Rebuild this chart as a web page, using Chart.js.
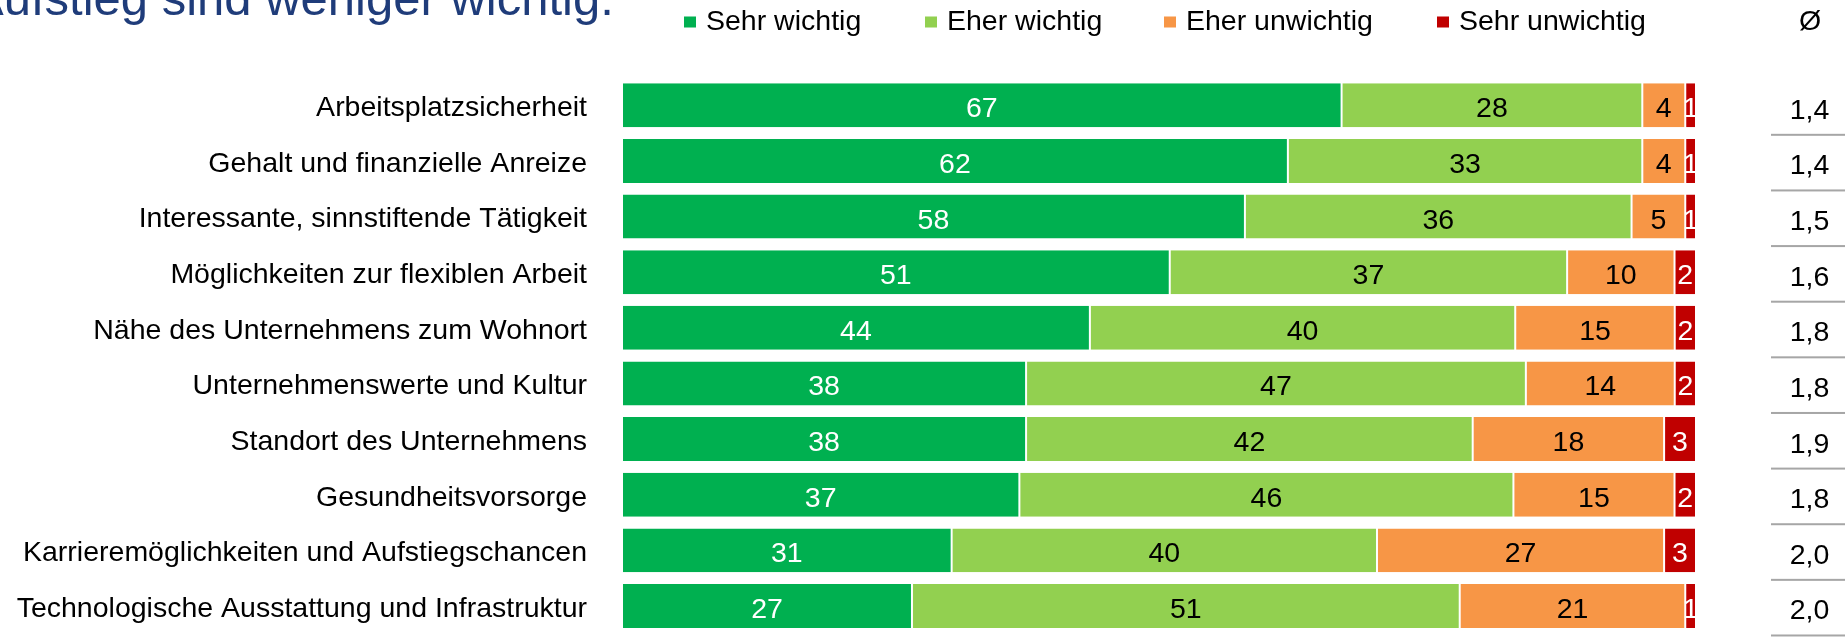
<!DOCTYPE html>
<html>
<head>
<meta charset="utf-8">
<script src="https://cdn.jsdelivr.net/npm/chart.js@4/dist/chart.umd.min.js"></script>
<style>
  html, body { margin: 0; padding: 0; background: #ffffff; overflow: hidden; }
  #wrap { width: 1845px; height: 638px; position: relative; }
</style>
</head>
<body>
<div id="wrap"><canvas id="c" width="1845" height="638"></canvas></div>
<script>
// ---------- data ----------
const titleText = 'Aufstieg sind weniger wichtig.';
const categories = [
  'Arbeitsplatzsicherheit',
  'Gehalt und finanzielle Anreize',
  'Interessante, sinnstiftende Tätigkeit',
  'Möglichkeiten zur flexiblen Arbeit',
  'Nähe des Unternehmens zum Wohnort',
  'Unternehmenswerte und Kultur',
  'Standort des Unternehmens',
  'Gesundheitsvorsorge',
  'Karrieremöglichkeiten und Aufstiegschancen',
  'Technologische Ausstattung und Infrastruktur'
];
const seriesLabels = ['Sehr wichtig', 'Eher wichtig', 'Eher unwichtig', 'Sehr unwichtig'];
const sehrWichtig    = [67, 62, 58, 51, 44, 38, 38, 37, 31, 27];
const eherWichtig    = [28, 33, 36, 37, 40, 47, 42, 46, 40, 51];
const eherUnwichtig  = [4, 4, 5, 10, 15, 14, 18, 15, 27, 21];
const sehrUnwichtig  = [1, 1, 1, 2, 2, 2, 3, 2, 3, 1];
const averageLabel   = 'Ø';
const averages       = ['1,4', '1,4', '1,5', '1,6', '1,8', '1,8', '1,9', '1,8', '2,0', '2,0'];

// ---------- styles ----------
const seriesColors = ['#00B050', '#92D050', '#F79646', '#C00000'];
const labelColors  = ['#FFFFFF', '#000000', '#000000', '#FFFFFF'];
const FONT = '"Liberation Sans", Arial, Helvetica, sans-serif';

const rawSeries = [sehrWichtig, eherWichtig, eherUnwichtig, sehrUnwichtig];
// every row is drawn as a 100 % bar (shares of the row total)
const rowTotals = categories.map((_, i) => rawSeries.reduce((s, arr) => s + arr[i], 0));
const datasets = rawSeries.map((arr, k) => ({
  label: seriesLabels[k],
  data: arr.map((v, i) => v / rowTotals[i] * 100),
  raw: arr,
  backgroundColor: seriesColors[k],
  borderColor: '#FFFFFF',
  borderWidth: { left: 1, right: 1, top: 0, bottom: 0 },
  borderSkipped: false,
  barPercentage: 0.79,
  categoryPercentage: 1.0
}));

const overlay = {
  id: 'overlay',
  afterDatasetsDraw(chart) {
    const ctx = chart.ctx;
    const area = chart.chartArea;
    ctx.save();
    ctx.beginPath();
    ctx.rect(area.left, area.top, area.right - area.left, area.bottom - area.top);
    ctx.clip();
    ctx.font = '28.5px ' + FONT;
    ctx.textAlign = 'center';
    ctx.textBaseline = 'alphabetic';
    chart.data.datasets.forEach((ds, k) => {
      const meta = chart.getDatasetMeta(k);
      meta.data.forEach((bar, i) => {
        const cx = (bar.x + bar.base) / 2;
        ctx.fillStyle = labelColors[k];
        ctx.fillText(String(ds.raw[i]), cx, bar.y + 12);
      });
    });
    ctx.restore();
  },
  afterDraw(chart) {
    const ctx = chart.ctx;
    const yScale = chart.scales.y;
    ctx.save();
    // title (partially cut at the top)
    ctx.font = '49px ' + FONT;
    ctx.fillStyle = '#1F3C7A';
    ctx.textAlign = 'left';
    ctx.textBaseline = 'alphabetic';
    ctx.fillText(titleText, -29, 15);

    // legend
    const legendX = [684, 925, 1164, 1437];
    ctx.font = '28.5px ' + FONT;
    seriesLabels.forEach((lab, k) => {
      ctx.fillStyle = seriesColors[k];
      ctx.fillRect(legendX[k], 16.5, 12, 11);
      ctx.fillStyle = '#000000';
      ctx.textAlign = 'left';
      ctx.fillText(lab, legendX[k] + 22, 30);
    });
    ctx.textAlign = 'center';
    ctx.fillText(averageLabel, 1810, 30);

    // average column with separators
    averages.forEach((a, i) => {
      const y = yScale.getPixelForValue(i);
      ctx.fillStyle = '#000000';
      ctx.fillText(a, 1809.5, y + 13.5);
      ctx.fillStyle = '#A6A6A6';
      ctx.fillRect(1771, y + 28.5, 74, 2);
    });
    ctx.restore();
  }
};

new Chart(document.getElementById('c'), {
  type: 'bar',
  data: { labels: categories, datasets: datasets },
  options: {
    indexAxis: 'y',
    responsive: false,
    animation: false,
    devicePixelRatio: 1,
    layout: { padding: { left: 0, right: 149, top: 77.5, bottom: 4.2 } },
    plugins: { legend: { display: false }, tooltip: { enabled: false }, title: { display: false } },
    scales: {
      x: { stacked: true, min: 0, max: 100, display: false },
      y: {
        stacked: true,
        grid: { display: false, drawTicks: false },
        border: { display: false },
        ticks: {
          color: '#000000',
          padding: 35,
          labelOffset: 3,
          font: { family: FONT, size: 28.5 }
        },
        afterFit(scale) {
          scale.width = 622;
          scale.paddingTop = 0;
          scale.paddingBottom = 0;
        }
      }
    }
  },
  plugins: [overlay]
});
</script>
</body>
</html>
